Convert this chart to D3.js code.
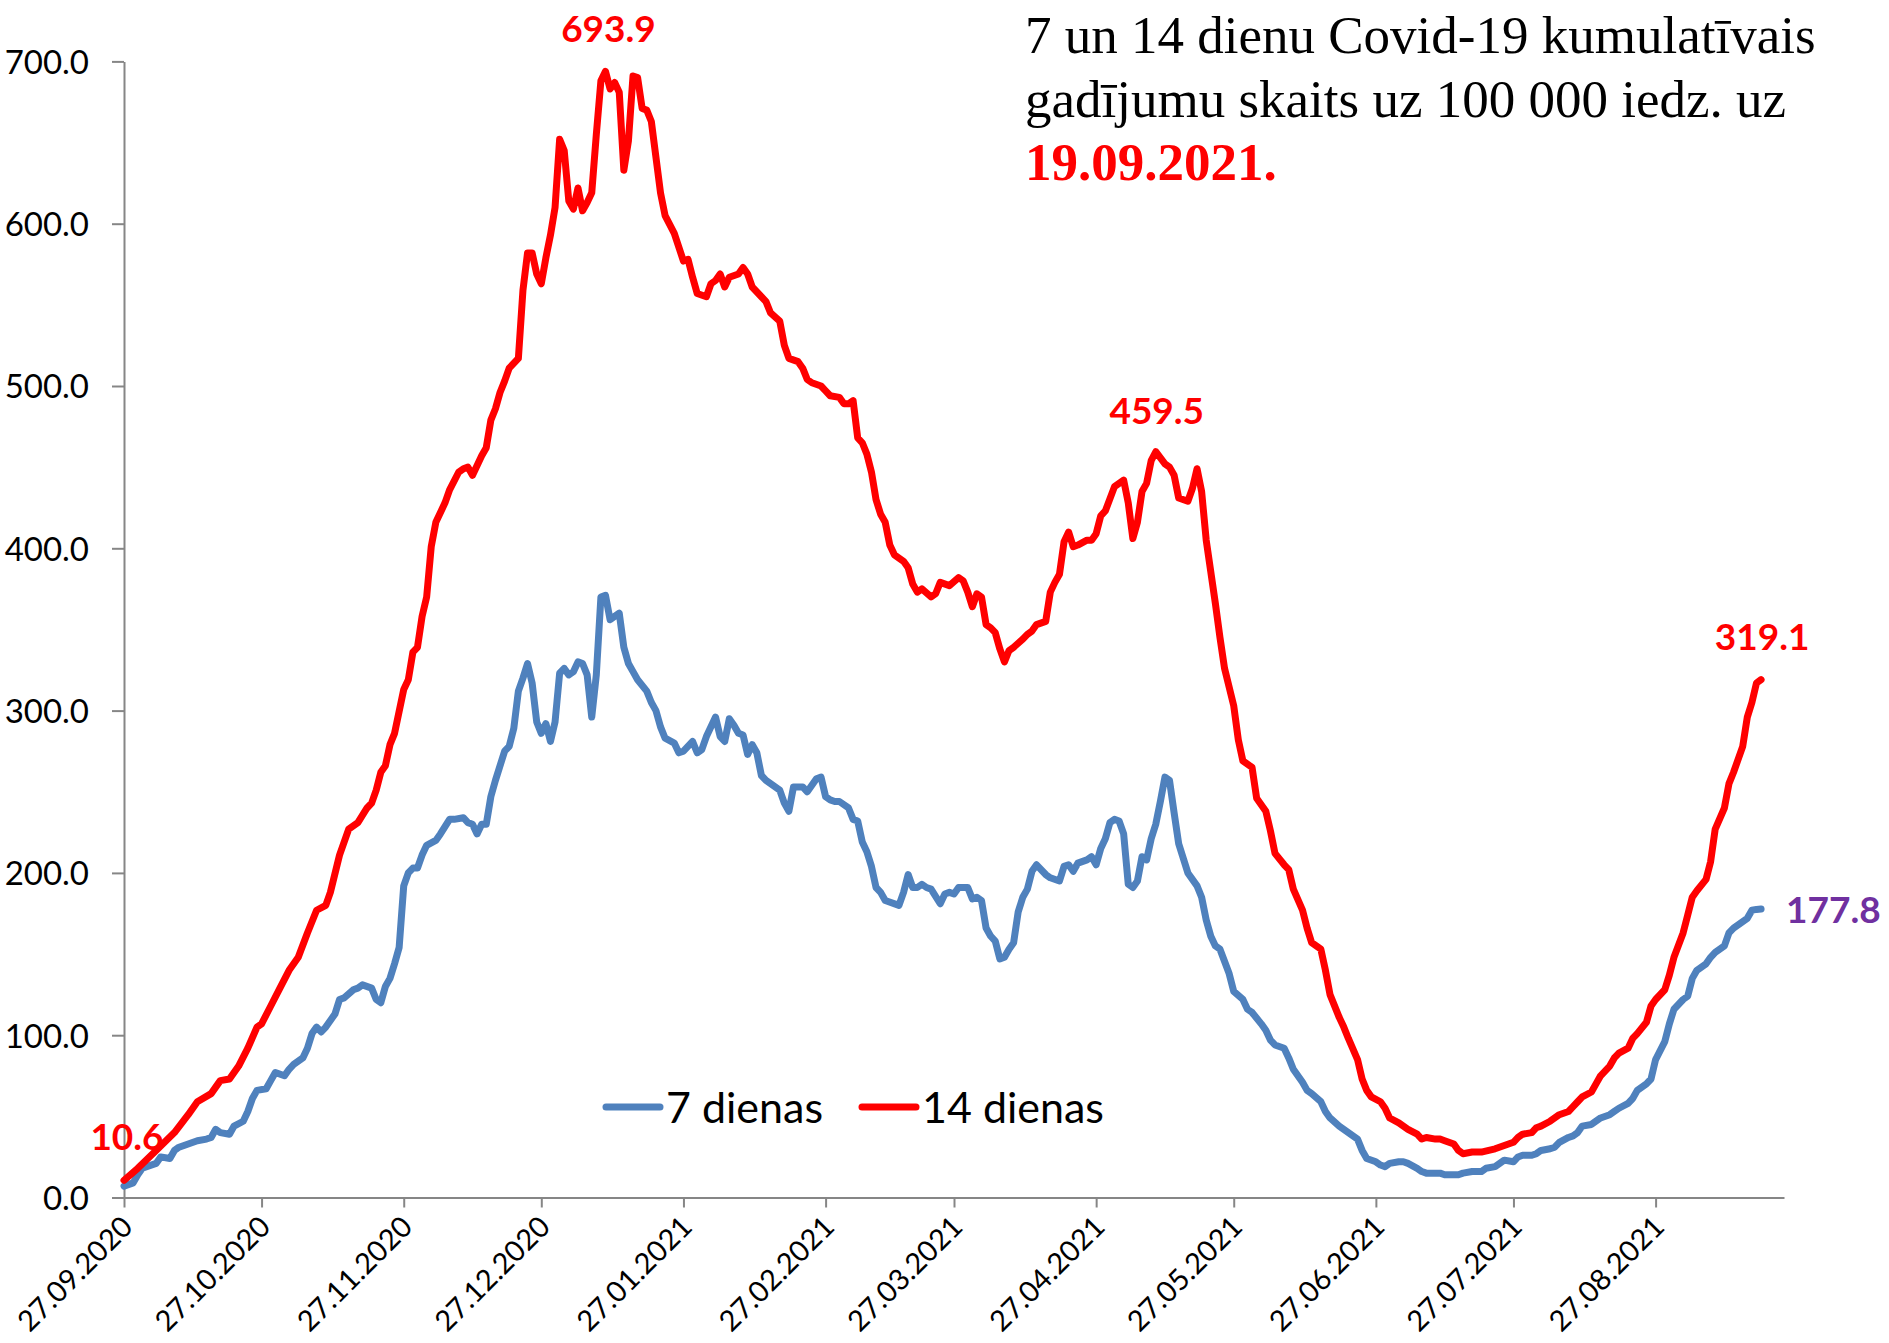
<!DOCTYPE html>
<html><head><meta charset="utf-8">
<script src="https://cdn.jsdelivr.net/npm/d3@7"></script>
<style>body{margin:0;background:#fff}</style>
</head><body>
<script>
// ---------------- DATA ----------------
const startDate = "27.09.2020";
const tickLabels = ["27.09.2020","27.10.2020","27.11.2020","27.12.2020","27.01.2021","27.02.2021",
  "27.03.2021","27.04.2021","27.05.2021","27.06.2021","27.07.2021","27.08.2021"];
const yTicks = [0,100,200,300,400,500,600,700];
const seriesNames = ["7 dienas","14 dienas"];
const titleLines = ["7 un 14 dienu Covid-19 kumulatīvais","gadījumu skaits uz 100 000 iedz. uz"];
const titleDate = "19.09.2021.";

// day offsets since 27.09.2020 and values – 7 dienas
const days7 = [0,2,3,4,7,8,10,11,12,14,16,18,19,20,21,23,24,26,27,28,29,31,32,33,35,36,37,39,40,41,42,43,44,46,47,48,50,51,52,54,55,56,57,58,59,
  60,61,62,63,64,65,66,68,69,71,72,74,75,76,77,78,79,80,81,83,84,85,86,87,88,89,90,91,92,93,94,95,96,97,98,99,100,101,102,103,104,105,106,107,108,109,110,111,112,114,115,116,
  117,118,120,121,122,124,125,126,127,129,130,131,132,133,134,135,136,137,138,139,140,143,144,145,146,148,149,151,152,153,154,155,156,158,159,
  160,161,162,163,164,165,166,169,170,171,172,173,174,175,176,178,179,180,181,182,184,185,186,187,188,189,190,191,192,193,194,195,196,197,198,199,201,202,204,205,206,207,208,210,211,212,213,214,215,216,217,218,219,220,221,222,223,224,225,226,227,228,229,230,232,234,235,236,237,238,239,241,242,
  244,245,246,248,249,250,251,253,254,255,257,258,259,261,262,263,265,266,267,269,270,271,273,274,275,276,278,279,280,282,283,284,286,287,288,291,292,294,295,296,297,299,300,301,303,304,305,307,308,309,311,312,313,315,316,317,318,320,321,322,324,325,326,328,329,330,332,333,334,336,337,338,340,341,342,343,345,346,347,349,350,351,353,354,355,356,357];
const vals7 = [7,9,14,18,21,25,24,29,31,33,35,36,37,42,40,39,44,47,53,61,66,67,72,77,75,79,82,86,92,101,105,102,105,113,122,123,128,129,131,129,122,120,130,135,144,
  154,192,200,203,203,211,217,220,224,233,233,234,231,230,224,230,230,247,257,275,278,289,312,320,329,317,293,286,292,281,293,323,326,322,324,330,329,322,296,322,370,371,356,358,360,339,329,324,319,312,305,300,
  290,283,280,274,275,281,274,276,284,296,284,281,295,291,286,285,273,279,274,260,257,251,243,238,253,253,250,258,259,247,245,244,244,240,233,
  232,219,213,204,191,188,183,180,188,199,191,191,193,191,190,181,187,188,187,191,191,184,185,183,166,161,158,147,148,153,157,176,185,190,201,205,199,197,195,204,205,201,206,208,210,205,215,221,231,233,232,224,193,191,195,210,208,221,230,244,259,257,237,218,200,192,185,171,161,155,153,138,127,
  122,116,114,107,103,97,94,92,86,79,71,66,64,59,53,49,44,42,40,36,29,24,22,20,19,21,22,22,21,18,16,15,15,15,14,14,15,16,16,16,18,19,21,23,22,25,26,26,27,29,30,31,34,37,38,40,44,45,47,49,51,53,55,58,61,66,70,73,85,96,107,116,122,124,135,140,144,148,151,155,163,166,170,172,177,177.5,177.8];

// day offsets since 27.09.2020 and values – 14 dienas
const days14 = [0,3,7,11,14,16,19,21,23,25,27,29,30,32,34,36,38,40,42,44,45,47,49,51,53,54,
  55,56,57,58,59,61,62,63,64,65,66,67,68,70,71,73,74,75,76,78,79,80,81,82,83,84,86,87,88,89,90,91,92,93,94,
  95,96,97,98,99,100,101,102,103,104,105,106,107,108,109,110,111,112,113,114,115,117,118,120,122,123,124,125,127,128,129,130,131,132,134,135,136,137,139,140,141,143,144,145,147,148,149,150,152,153,154,156,157,158,159,
  160,161,162,163,164,165,166,167,168,170,171,172,173,174,176,177,178,180,182,183,184,185,186,187,188,189,190,191,192,193,194,196,197,198,199,201,202,203,204,205,206,207,208,210,211,212,213,214,216,218,219,220,221,222,223,224,225,227,228,229,230,232,233,234,235,236,238,239,240,242,243,244,246,247,249,250,
  251,253,254,255,257,258,259,261,262,263,265,266,267,269,270,271,272,274,275,276,278,279,280,282,283,284,286,287,288,290,291,292,294,296,299,301,303,304,305,307,308,309,311,312,313,315,316,317,318,320,321,322,324,325,326,328,329,330,332,333,334,336,337,338,340,341,342,343,345,346,347,349,350,351,353,354,355,356,357];
const vals14 = [10.6,18,29,40,51,59,64,72,73,81,92,105,107,118,129,140,148,163,177,180,188,211,227,231,240,243,
  251,262,266,279,286,313,319,336,339,358,370,401,416,428,436,447,449,450,445,457,462,479,486,496,503,511,517,559,582,582,569,563,579,593,610,
  652,645,614,609,622,608,613,619,655,688,693.9,683,687,681,633,651,691,690,671,670,663,619,605,594,577,578,567,557,555,563,565,569,561,567,569,573,569,561,555,552,545,540,525,517,515,511,504,502,500,497,494,493,489,489,491,
  468,465,458,447,430,421,416,402,396,392,388,378,373,375,370,372,379,377,382,380,373,364,372,370,353,351,348,338,330,337,339,344,347,349,353,355,373,379,384,404,410,401,402,405,405,409,420,423,438,442,428,406,416,435,440,454,459.5,452,450,445,431,429,437,449,435,405,366,345,326,303,282,269,265,246,238,226,
  212,205,202,190,177,166,157,153,140,125,111,105,98,85,73,66,62,59,55,49,46,44,42,39,36,37,36,36,35,33,29,27,28,28,30,32,34,37,39,40,43,44,47,49,51,53,56,59,62,65,70,75,81,86,89,92,98,101,108,118,122,128,137,148,163,174,185,189,196,207,227,240,255,262,278,296,305,317,319.1];

// ---------------- CHART ----------------
const W = 1889, H = 1343;
const parse = d3.utcParse("%d.%m.%Y");
const fmt = d3.format(".1f");
const t0 = parse(startDate);
const toDate = d => d3.utcDay.offset(t0, d);

const s7 = days7.map((d,i)=>({date:toDate(d), v:vals7[i], d}));
const s14 = days14.map((d,i)=>({date:toDate(d), v:vals14[i], d}));

const svg = d3.select("body").append("svg").attr("width",W).attr("height",H)
  .style("background","#fff");

const x = d3.scaleUtc().domain([t0, d3.utcDay.offset(t0, 362)]).range([124, 1784]);
const y = d3.scaleLinear().domain([0,700]).range([1197.5, 61.4]);

const axisColor = "#868686";
const sans = "Lato, 'Open Sans', sans-serif";

// Y axis
const gy = svg.append("g").attr("transform","translate(124,0)")
  .call(d3.axisLeft(y).tickValues(yTicks).tickSize(12).tickSizeOuter(0).tickPadding(23).tickFormat(fmt));
gy.selectAll("path,line").attr("stroke",axisColor).attr("stroke-width",2);
gy.selectAll("text").attr("font-family",sans).attr("font-size",33).attr("fill","#000").attr("dy","0.36em");

// X axis
const gx = svg.append("g").attr("transform",`translate(0,${y(0)})`)
  .call(d3.axisBottom(x).tickValues(tickLabels.map(parse)).tickSize(10).tickSizeOuter(0)
    .tickFormat(d3.utcFormat("%d.%m.%Y")));
gx.selectAll("path,line").attr("stroke",axisColor).attr("stroke-width",2);
gx.selectAll("text").attr("font-family",sans).attr("font-size",29).attr("fill","#000")
  .attr("x",0).attr("y",0).attr("dy",0).attr("text-anchor","end")
  .attr("transform","translate(10,31) rotate(-45)");

// Lines
const line = d3.line().x(d=>x(d.date)).y(d=>y(d.v));
svg.append("path").datum(s7).attr("d",line).attr("fill","none").attr("stroke","#4F81BD")
  .attr("stroke-width",7).attr("stroke-linejoin","round").attr("stroke-linecap","round");
svg.append("path").datum(s14).attr("d",line).attr("fill","none").attr("stroke","#FF0000")
  .attr("stroke-width",7).attr("stroke-linejoin","round").attr("stroke-linecap","round");

// Data labels
const peak = s14.reduce((a,b)=>b.v>a.v?b:a);
const spring = s14.filter(p=>p.d>200 && p.d<260).reduce((a,b)=>b.v>a.v?b:a);
const first14 = s14[0], last14 = s14[s14.length-1], last7 = s7[s7.length-1];
const lab = svg.append("g").attr("font-family",sans).attr("font-weight",700).attr("font-size",37);
[[peak,3,-29],[spring,1,-28],[last14,1,-30],[first14,3,-30]].forEach(([p,dx,dy])=>{
  lab.append("text").attr("x",x(p.date)+dx).attr("y",y(p.v)+dy).attr("text-anchor","middle")
    .attr("fill","#FF0000").text(fmt(p.v));
});
lab.append("text").attr("x",x(last7.date)+25).attr("y",y(last7.v)+14).attr("fill","#7030A0").text(fmt(last7.v));

// Legend
const leg = svg.append("g");
const legItems = [{name:seriesNames[0],c:"#4F81BD",x0:606},{name:seriesNames[1],c:"#FF0000",x0:862}];
legItems.forEach(it=>{
  leg.append("line").attr("x1",it.x0).attr("x2",it.x0+54).attr("y1",1107).attr("y2",1107)
    .attr("stroke",it.c).attr("stroke-width",7).attr("stroke-linecap","round");
  leg.append("text").attr("x",it.x0+60).attr("y",1123).attr("font-family",sans).attr("font-size",43)
    .attr("fill","#000").text(it.name);
});

// Title
const tg = svg.append("g").attr("font-family","'Liberation Serif', 'Times New Roman', serif").attr("font-size",53);
titleLines.forEach((t,i)=>tg.append("text").attr("x",1025).attr("y",53+i*64).attr("fill","#000").text(t));
tg.append("text").attr("x",1025).attr("y",180).attr("fill","#FF0000").attr("font-weight",700).text(titleDate);
</script>
</body></html>
